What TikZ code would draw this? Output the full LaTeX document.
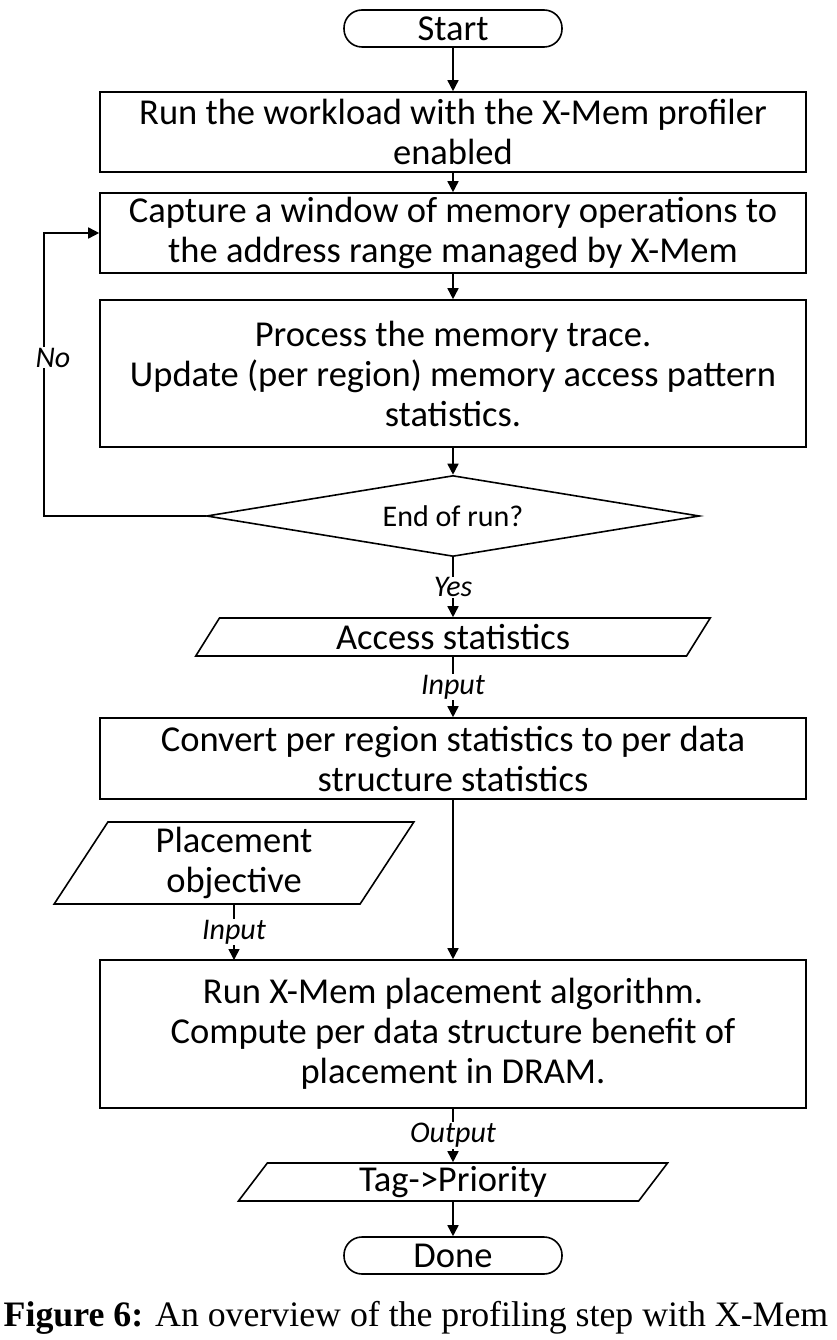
\documentclass[tikz,border=0pt]{standalone}
\usepackage{fontspec}
\setmainfont{Carlito}
\newfontfamily\capfont{Liberation Serif}
\usetikzlibrary{shapes.geometric,arrows.meta}
\begin{document}
\begin{tikzpicture}[x=1pt,y=-1pt,
  txt/.style={font=\fontsize{36.5}{40}\selectfont},
  proc/.style={txt, draw, line width=1.6pt, minimum width=706pt, align=center, inner sep=0pt},
  term/.style={txt, draw, line width=1.6pt, rounded corners=18pt, minimum width=218pt, minimum height=37pt, inner sep=0pt},
  io/.style={txt, draw, line width=1.6pt, trapezium, trapezium left angle=65, trapezium right angle=115, trapezium stretches=true, align=center, inner sep=0pt},
  dec/.style={draw, line width=1.6pt, diamond, aspect=6, minimum width=493pt, minimum height=81pt, inner sep=0pt, font=\fontsize{30}{33}\selectfont},
  lbl/.style={font=\itshape\fontsize{30}{32}\selectfont, fill=white, inner sep=1pt},
  arr/.style={-{Triangle[length=11pt,width=11pt]}, line width=1.6pt}]
\useasboundingbox (0,0) rectangle (836,1340);
\fill[white] (0,0) rectangle (836,1340);
\node[term] (start) at (453,28.5) {Start};
\node[proc, minimum height=80pt] (b1) at (453,132) {Run the workload with the X-Mem profiler\\enabled};
\node[proc, minimum height=80pt] (b2) at (453,233) {Capture a window of memory operations to\\the address range managed by X-Mem};
\node[proc, minimum height=147pt] (b3) at (453,373.5) {Process the memory trace.\\Update (per region) memory access pattern\\statistics.};
\node[dec] (d) at (453,516) {End of run?};
\node[io, minimum width=515pt, minimum height=38pt] (acc) at (453,637) {Access statistics};
\node[proc, minimum height=81pt] (b4) at (453,758.5) {Convert per region statistics to per data\\structure statistics};
\node[io, minimum width=360pt, minimum height=82pt] (po) at (234,863) {Placement\\objective};
\node[proc, minimum height=148pt] (b5) at (453,1034) {Run X-Mem placement algorithm.\\Compute per data structure benefit of\\placement in DRAM.};
\node[io, minimum width=430pt, minimum height=38pt] (tag) at (453,1182) {Tag->Priority};
\node[term] (done) at (453,1255.5) {Done};
\node[anchor=base, inner sep=0pt] (cap) at (416,1326) {\capfont\fontsize{35.8}{40}\selectfont\textbf{Figure 6:} An overview of the profiling step with X-Mem};
\coordinate (lp) at (44,516);
\coordinate (pin) at (234,960);
\draw[arr] (start) -- (b1);
\draw[arr] (b1) -- (b2);
\draw[arr] (b2) -- (b3);
\draw[arr] (b3) -- (d);
\draw[arr] (d) -- node[lbl]{Yes} (acc);
\draw[arr] (acc) -- node[lbl]{Input} (b4);
\draw[arr] (b4) -- (b5);
\draw[arr] (po) -- node[lbl]{Input} (pin);
\draw[arr] (b5) -- node[lbl]{Output} (tag);
\draw[arr] (tag) -- (done);
\draw[arr] (d.west) -- (lp) |- node[lbl, pos=0.28, xshift=9pt]{No} (b2.west);
\end{tikzpicture}
\end{document}
